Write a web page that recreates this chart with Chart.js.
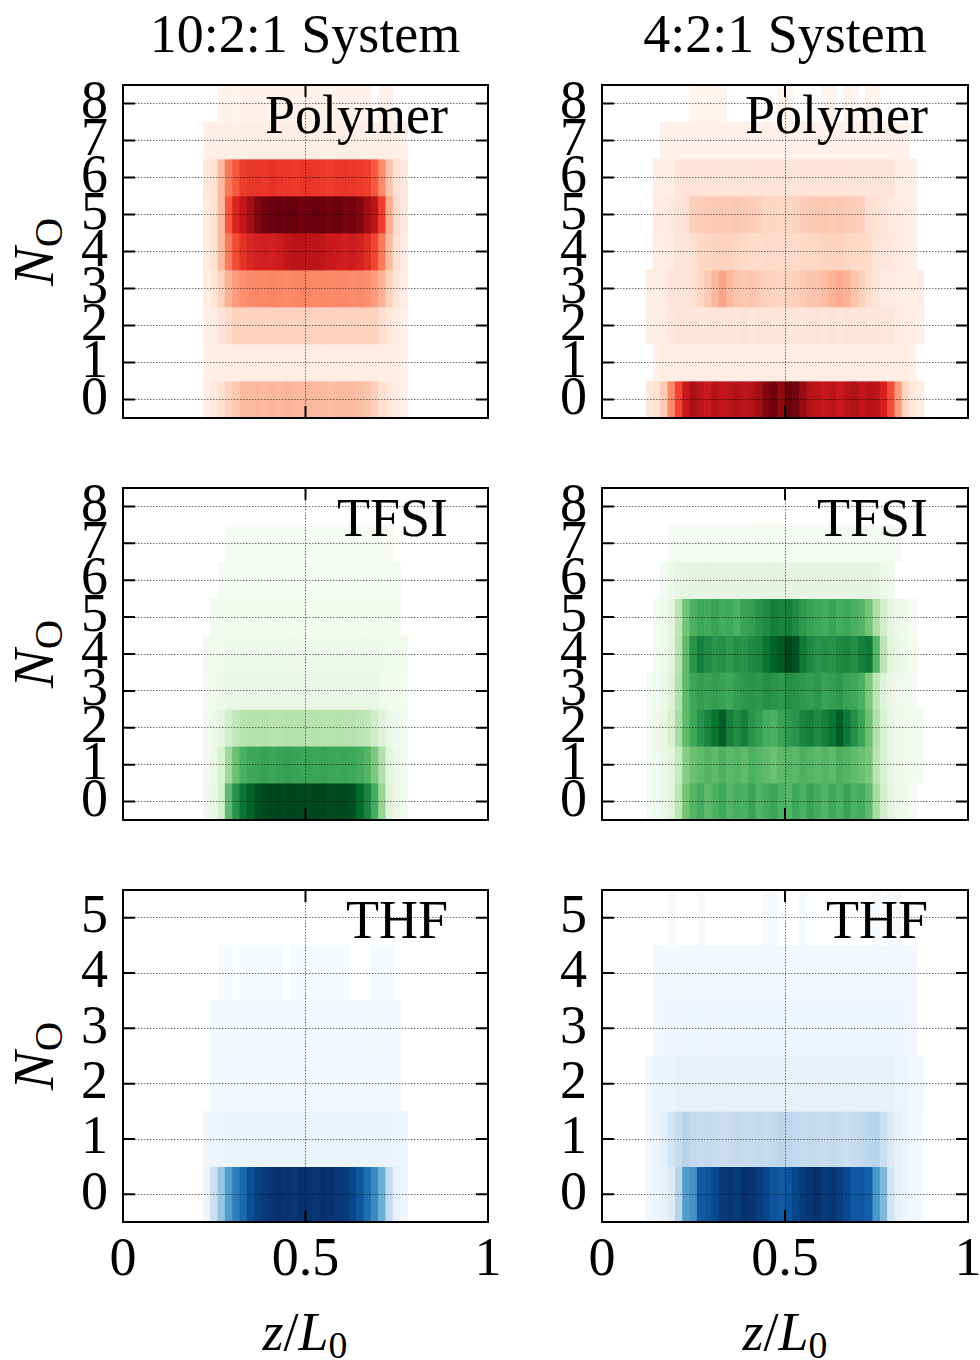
<!DOCTYPE html>
<html>
<head>
<meta charset="utf-8">
<script src="https://cdn.jsdelivr.net/npm/chart.js"></script>
<style>
html,body{margin:0;padding:0;background:#fff;}
body{width:980px;height:1360px;position:relative;overflow:hidden;font-family:"Liberation Serif","Times New Roman",serif;color:#000;}
canvas{position:absolute;display:block;}
.txt{position:absolute;white-space:nowrap;line-height:1;font-size:54px;}
.ctr{transform:translateX(-50%);}
.ylab{transform:translate(-50%,-50%) rotate(-90deg);font-size:58px;}
sub{font-size:0.7em;vertical-align:-0.22em;line-height:0;font-style:normal;}
</style>
</head>
<body>
<div class="txt ctr" style="left:305px;top:7px">10:2:1 System</div>
<div class="txt ctr" style="left:785px;top:7px">4:2:1 System</div>
<div class="txt ylab" style="left:34px;top:252px"><i>N</i><sub>O</sub></div>
<div class="txt ylab" style="left:34px;top:654px"><i>N</i><sub>O</sub></div>
<div class="txt ylab" style="left:34px;top:1056px"><i>N</i><sub>O</sub></div>
<div class="txt ctr" style="left:305px;top:1305px"><i>z</i>/<i>L</i><sub>0</sub></div>
<div class="txt ctr" style="left:785px;top:1305px"><i>z</i>/<i>L</i><sub>0</sub></div>

<canvas id="c0"></canvas><canvas id="c1"></canvas>
<canvas id="c2"></canvas><canvas id="c3"></canvas>
<canvas id="c4"></canvas><canvas id="c5"></canvas>

<script>
// ---------------- DATA ----------------
// bin edges along z/L0
const zBins = [0,0.02,0.04,0.06,0.08,0.1,0.12,0.14,0.16,0.18,0.2,0.22,0.24,0.26,0.28,0.3,0.32,0.34,0.36,0.38,0.4,0.42,0.44,0.46,0.48,0.5,0.52,0.54,0.56,0.58,0.6,0.62,0.64,0.66,0.68,0.7,0.72,0.74,0.76,0.78,0.8,0.82,0.84,0.86,0.88,0.9,0.92,0.94,0.96,0.98,1];
const xTicks = [0, 0.5, 1];
const xTickLabels = ['0', '0.5', '1'];
const noLevelsPolyTfsi = [0,1,2,3,4,5,6,7,8];
const noLevelsThf = [0,1,2,3,4,5];
const columnTitles = ['10:2:1 System', '4:2:1 System'];
const panelLabels = ['Polymer', 'TFSI', 'THF'];

// normalized occupancy (% of panel maximum); each row: first bin index + values
const poly10 = [
  {from:11, v:[4,7,12,17,21,25,25,26,25,26,25,27,26,25,26,25,25,24,25,25,25,24,22,18,13,9,6,3]},
  {from:11, v:[3,4,5,5,5,5,5,5,5,5,5,5,5,5,5,5,5,5,5,5,5,5,5,5,5,5,4,3]},
  {from:11, v:[4,6,10,14,17,17,17,17,17,17,17,17,17,17,17,17,17,17,17,17,17,17,17,17,13,9,6,3]},
  {from:11, v:[5,10,18,28,35,38,40,41,40,42,41,40,41,42,41,40,41,40,41,40,39,40,38,35,28,18,10,5]},
  {from:11, v:[6,12,25,45,58,66,70,72,73,72,74,78,80,80,79,80,78,75,74,73,74,72,68,60,45,25,12,6]},
  {from:11, v:[6,12,25,55,70,78,88,95,98,99,100,99,100,98,99,100,99,98,99,97,98,95,88,80,62,30,14,8]},
  {from:11, v:[8,12,25,45,55,62,64,65,64,66,65,64,63,64,65,64,63,62,64,65,64,63,62,55,40,22,12,7]},
  {from:11, v:[3,4,4,4,4,4,4,4,4,4,4,4,4,4,4,4,4,4,4,4,4,4,4,4,4,4,4,3]},
  {from:13, v:[2,2,1,2,2,2,2,2,2,2,2,2,2,2,2,2,2,2,2,2,2,0,2,2]}
];
const poly4 = [
  {from:6, v:[8,12,20,40,60,75,85,80,75,82,78,80,83,80,82,88,95,98,92,100,97,90,82,80,76,80,75,80,84,78,82,80,72,58,35,16,8,5]},
  {from:7, v:[3,5,5,5,5,5,5,5,5,5,5,5,5,5,5,5,5,5,5,5,5,5,5,5,5,5,5,5,5,5,5,5,5,5,5,3]},
  {from:6, v:[4,4,5,9,10,9,10,9,10,10,9,10,9,10,9,10,10,9,10,9,10,9,10,10,9,10,9,10,9,10,9,10,9,9,6,5,4,3]},
  {from:6, v:[5,5,6,10,10,11,12,16,20,26,32,26,22,21,22,20,18,17,16,17,18,20,22,22,24,27,30,28,22,18,14,10,6,6,6,4,4,4]},
  {from:7, v:[5,5,6,10,11,12,15,16,17,17,17,16,15,14,14,15,14,14,15,14,15,15,16,17,17,17,16,15,15,14,10,9,8,6,5,4]},
  {from:7, v:[6,6,7,11,12,18,19,20,21,21,20,21,20,19,18,16,16,15,16,17,19,20,21,21,20,21,20,19,18,13,12,10,7,6,5,4]},
  {from:7, v:[4,4,5,10,11,10,11,10,11,11,10,11,10,11,10,11,11,10,11,10,11,10,11,11,10,11,10,11,10,11,10,11,10,5,4,4]},
  {from:8, v:[3,3,3,3,3,3,3,3,3,3,3,3,3,3,3,3,3,3,3,3,3,3,3,3,3,3,3,3,3,3,3,3,3,3]},
  {from:12, v:[1,1,1,1,1,0,0,0,0,0,0,0,1,1,0,0,0,0,1,1,0,1,1,0,1,1]}
];
const tfsi10 = [
  {from:11, v:[5,8,20,55,72,84,90,96,98,99,100,99,100,99,98,100,99,98,99,98,96,88,78,62,40,15,8,4]},
  {from:11, v:[4,8,18,38,52,60,64,65,66,65,66,67,66,65,66,65,66,65,64,65,64,62,58,48,32,14,7,3]},
  {from:11, v:[3,6,12,20,26,30,31,30,31,30,30,31,30,31,30,31,30,30,31,30,30,29,27,22,15,8,5,3]},
  {from:11, v:[2,4,6,9,9,9,9,9,9,9,9,9,9,9,9,9,9,9,9,9,9,9,9,9,6,4,3,2]},
  {from:11, v:[3,4,4,5,5,5,5,5,5,5,5,5,5,5,5,5,5,5,5,5,5,5,5,5,5,4,4,3]},
  {from:12, v:[3,3,3,3,3,3,3,3,3,3,3,3,3,3,3,3,3,3,3,3,3,3,3,3,3,3]},
  {from:13, v:[2,2,2,2,2,2,2,2,2,2,2,2,2,2,2,2,2,2,2,2,2,2,2,2,2]},
  {from:14, v:[1,1,1,1,1,1,1,1,1,1,1,1,1,1,1,1,1,1,1,1,1,1,1]},
  {from:0, v:[]}
];
const tfsi4 = [
  {from:6, v:[2,4,8,14,28,50,58,62,55,60,64,58,62,60,66,58,62,65,60,58,64,60,66,62,58,64,60,66,60,62,55,35,20,12,6,4,2]},
  {from:6, v:[3,5,9,14,25,45,52,55,58,55,60,56,58,55,60,57,55,52,56,58,56,60,58,56,58,55,60,58,55,52,48,30,18,10,6,4,3,2]},
  {from:6, v:[3,6,10,18,35,55,65,72,78,85,92,80,75,80,72,68,62,60,66,70,72,78,80,76,80,84,92,82,74,66,52,32,18,10,6,4,3,2]},
  {from:6, v:[2,4,8,16,32,55,65,68,66,68,66,64,68,70,72,70,74,72,70,74,72,70,68,70,66,68,70,66,64,60,48,28,15,8,5,3,2]},
  {from:7, v:[3,6,12,30,55,72,80,76,72,74,70,74,72,76,78,84,90,94,100,95,82,76,72,74,72,76,78,74,80,82,58,28,14,8,5,3]},
  {from:7, v:[3,6,12,28,50,60,64,62,66,62,64,60,66,68,72,76,80,78,80,76,70,66,64,62,66,62,64,60,58,50,34,20,12,6,4,2]},
  {from:8, v:[4,6,11,12,12,12,12,12,12,12,12,12,12,12,12,12,12,12,12,12,12,12,12,12,12,12,12,12,12,11,6,4]},
  {from:9, v:[2,2,2,2,2,2,2,2,2,2,2,2,2,2,2,2,2,2,2,2,2,2,2,2,2,2,2,2,2,2,2,2]},
  {from:0, v:[]}
];
const thf10 = [
  {from:11, v:[5,22,40,58,70,78,88,94,96,98,100,99,98,100,99,98,100,99,97,96,92,85,76,65,50,26,8,4]},
  {from:11, v:[4,5,5,6,6,6,6,6,6,6,6,6,6,6,6,6,6,6,6,6,6,6,6,6,6,5,5,4]},
  {from:12, v:[3,3,3,3,3,3,3,3,3,3,3,3,3,3,3,3,3,3,3,3,3,3,3,3,3,3]},
  {from:12, v:[2,2,2,2,2,2,2,2,2,2,2,2,2,2,2,2,2,2,2,2,2,2,2,2,2,2]},
  {from:13, v:[1,1,0,1,1,1,1,1,1,0,1,1,1,1,1,1,1,1,0,0,0,1,1,1]},
  {from:0, v:[]}
];
const thf4 = [
  {from:6, v:[3,5,8,12,30,58,62,84,86,90,96,98,96,100,98,95,92,86,84,86,92,96,98,100,96,98,95,90,84,85,82,60,45,18,8,5,3,2]},
  {from:6, v:[3,5,10,18,24,30,26,24,26,24,22,24,26,24,25,26,24,26,28,28,26,24,26,25,24,26,24,22,24,26,28,30,22,14,8,5,3,2]},
  {from:6, v:[3,6,6,6,8,8,8,8,8,8,8,8,8,8,8,8,8,8,8,8,8,8,8,8,8,8,8,8,8,8,8,8,8,8,5,5,4,3]},
  {from:7, v:[3,4,4,4,4,4,4,4,4,4,4,4,4,4,4,4,4,4,4,4,4,4,4,4,4,4,4,4,4,4,4,4,4,4,4,3]},
  {from:7, v:[2,2,2,2,2,2,2,2,2,2,2,2,2,2,2,2,2,2,2,2,2,2,2,2,2,2,2,2,2,2,2,2,2,2,2,2]},
  {from:9, v:[1,0,0,0,1,0,0,0,0,0,0,0,0,1,1,0,0,0,1,0,0,0,0,0,0,0,0,0,1,0,1,1]}
];

// ---------------- STYLE / LAYOUT ----------------
const REDS   = ['#fff5f0','#fee0d2','#fcbba1','#fc9272','#fb6a4a','#ef3b2c','#cb181d','#a50f15','#67000d'];
const GREENS = ['#f7fcf5','#e5f5e0','#c7e9c0','#a1d99b','#74c476','#41ab5d','#238b45','#006d2c','#00441b'];
const BLUES  = ['#f7fbff','#deebf7','#c6dbef','#9ecae1','#6baed6','#4292c6','#2171b5','#08519c','#08306b'];

function hexToRgb(h){return [parseInt(h.slice(1,3),16),parseInt(h.slice(3,5),16),parseInt(h.slice(5,7),16)];}
function cmapColor(stops, t){
  t = Math.max(0, Math.min(1, t));
  const s = t*(stops.length-1);
  const i = Math.min(stops.length-2, Math.floor(s));
  const f = s - i;
  const a = hexToRgb(stops[i]), b = hexToRgb(stops[i+1]);
  return 'rgb(' + [0,1,2].map(k => Math.round(a[k]+(b[k]-a[k])*f)).join(',') + ')';
}

const FONT = {family:'"Liberation Serif", "Times New Roman", serif', size:54};
const layout = {
  colLeft:[0,500], colWidth:[500,480], yAxisWidth:[123,102], padRight:12,
  rowTop:[60,463,865], rowHeight:[378,377,427], padTop:25, xAxisHeight:[20,20,70]
};

const framePlugin = {
  id:'frame',
  afterDraw(chart, args, opts){
    const {ctx, chartArea:a, scales:{x, y}} = chart;
    ctx.save();
    ctx.strokeStyle = '#000';
    ctx.lineWidth = 2;
    ctx.strokeRect(a.left, a.top, a.right-a.left, a.bottom-a.top);
    const L = 12;
    ctx.beginPath();
    y.ticks.forEach(t => {
      const py = y.getPixelForValue(t.value);
      ctx.moveTo(a.left, py); ctx.lineTo(a.left+L, py);
      ctx.moveTo(a.right, py); ctx.lineTo(a.right-L, py);
    });
    x.ticks.forEach(t => {
      const px = x.getPixelForValue(t.value);
      ctx.moveTo(px, a.bottom); ctx.lineTo(px, a.bottom-L);
      ctx.moveTo(px, a.top); ctx.lineTo(px, a.top+L);
    });
    ctx.stroke();
    ctx.fillStyle = '#000';
    ctx.font = FONT.size + 'px ' + FONT.family;
    ctx.textAlign = 'right';
    ctx.textBaseline = 'alphabetic';
    ctx.fillText(opts.label, a.right-40, a.top+48);
    ctx.restore();
  }
};

const panels = [
  {data:poly10, levels:noLevelsPolyTfsi, cmap:REDS,   label:panelLabels[0], row:0, col:0},
  {data:poly4,  levels:noLevelsPolyTfsi, cmap:REDS,   label:panelLabels[0], row:0, col:1},
  {data:tfsi10, levels:noLevelsPolyTfsi, cmap:GREENS, label:panelLabels[1], row:1, col:0},
  {data:tfsi4,  levels:noLevelsPolyTfsi, cmap:GREENS, label:panelLabels[1], row:1, col:1},
  {data:thf10,  levels:noLevelsThf,      cmap:BLUES,  label:panelLabels[2], row:2, col:0},
  {data:thf4,   levels:noLevelsThf,      cmap:BLUES,  label:panelLabels[2], row:2, col:1}
];

panels.forEach((p, idx) => {
  const cv = document.getElementById('c'+idx);
  cv.width = layout.colWidth[p.col];
  cv.height = layout.rowHeight[p.row];
  cv.style.left = layout.colLeft[p.col] + 'px';
  cv.style.top = layout.rowTop[p.row] + 'px';
  cv.style.width = cv.width + 'px';
  cv.style.height = cv.height + 'px';

  const cells = [];
  p.data.forEach((r, ri) => {
    r.v.forEach((val, k) => {
      if (val > 0) cells.push({x:[zBins[r.from+k], zBins[r.from+k+1]], y:p.levels[ri], v:val});
    });
  });
  const yMin = p.levels[0] - 0.5, yMax = p.levels[p.levels.length-1] + 0.5;
  const showX = p.row === 2;
  const xh = layout.xAxisHeight[p.row];
  const yw = layout.yAxisWidth[p.col];
  const gridStyle = {color:'rgba(0,0,0,0.55)', lineWidth:1, drawTicks:false, z:1, offset:false};

  new Chart(cv, {
    type:'bar',
    data:{datasets:[{
      data:cells,
      backgroundColor: c => cmapColor(p.cmap, (c.raw ? c.raw.v : 0)/100),
      borderWidth:0, barPercentage:1, categoryPercentage:1
    }]},
    options:{
      indexAxis:'y', responsive:false, animation:false, devicePixelRatio:1,
      layout:{padding:{top:layout.padTop, right:layout.padRight, left:0, bottom:0}},
      plugins:{legend:{display:false}, tooltip:{enabled:false}, title:{display:false}, frame:{label:p.label}},
      events:[],
      scales:{
        x:{
          type:'linear', min:0, max:1, offset:false,
          afterBuildTicks: s => { s.ticks = xTicks.map(v => ({value:v})); },
          afterFit: s => { s.height = xh; s.paddingLeft = 0; s.paddingRight = 0; },
          ticks:{display:showX, autoSkip:false, maxRotation:0, minRotation:0, padding:6, font:FONT, color:'#000',
                 callback:(v, i) => xTickLabels[i]},
          grid:gridStyle,
          border:{display:false, dash:[1.5,1.5]}
        },
        y:{
          type:'linear', min:yMin, max:yMax, offset:false,
          afterBuildTicks: s => { s.ticks = p.levels.map(v => ({value:v})); },
          afterFit: s => { s.width = yw; s.paddingTop = 0; s.paddingBottom = 0; },
          ticks:{autoSkip:false, padding:15, font:FONT, color:'#000', callback:(v, i) => String(p.levels[i])},
          grid:gridStyle,
          border:{display:false, dash:[1.5,1.5]}
        }
      }
    },
    plugins:[framePlugin]
  });
});
</script>
</body>
</html>
